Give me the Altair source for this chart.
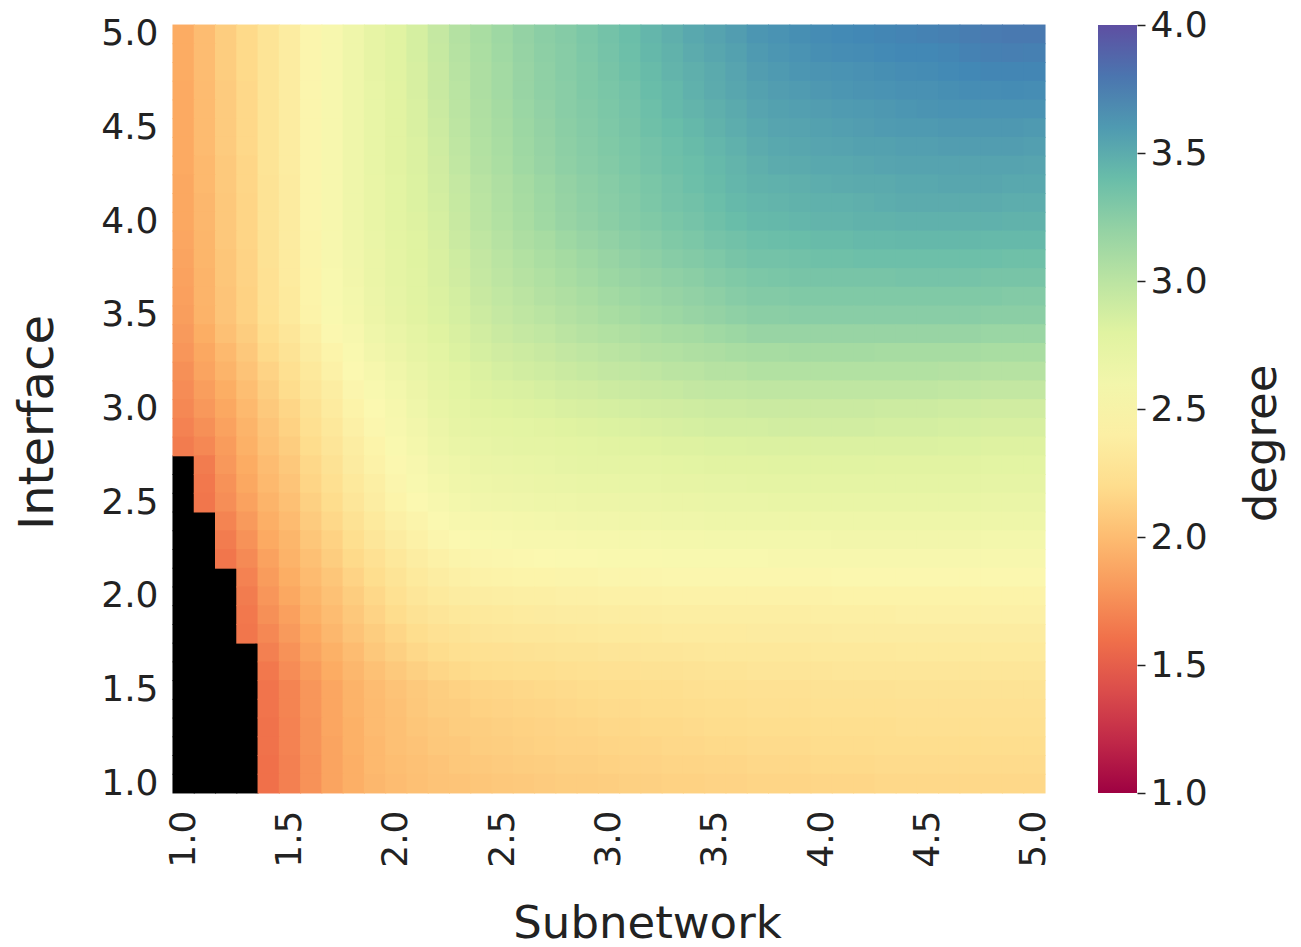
import altair as alt
import pandas as pd

# ---------------- data ----------------
subnetwork = ["1.0", "1.1", "1.2", "1.3", "1.4", "1.5", "1.6", "1.7", "1.8", "1.9",
              "2.0", "2.1", "2.2", "2.3", "2.4", "2.5", "2.6", "2.7", "2.8", "2.9",
              "3.0", "3.1", "3.2", "3.3", "3.4", "3.5", "3.6", "3.7", "3.8", "3.9",
              "4.0", "4.1", "4.2", "4.3", "4.4", "4.5", "4.6", "4.7", "4.8", "4.9",
              "5.0"]
interface = ["5.0", "4.9", "4.8", "4.7", "4.6", "4.5", "4.4", "4.3", "4.2", "4.1",
             "4.0", "3.9", "3.8", "3.7", "3.6", "3.5", "3.4", "3.3", "3.2", "3.1",
             "3.0", "2.9", "2.8", "2.7", "2.6", "2.5", "2.4", "2.3", "2.2", "2.1",
             "2.0", "1.9", "1.8", "1.7", "1.6", "1.5", "1.4", "1.3", "1.2", "1.1",
             "1.0"]
x_tick_labels = ["1.0", "1.5", "2.0", "2.5", "3.0", "3.5", "4.0", "4.5", "5.0"]
y_tick_labels = ["5.0", "4.5", "4.0", "3.5", "3.0", "2.5", "2.0", "1.5", "1.0"]
colorbar_ticks = [1.0, 1.5, 2.0, 2.5, 3.0, 3.5, 4.0]

# one row per Interface value (top row = 5.0), one entry per Subnetwork value; None = no value (black)
degree = [
    [1.90, 2.00, 2.10, 2.18, 2.28, 2.37, 2.47, 2.55, 2.63, 2.72,  2.79, 2.86, 2.95, 3.04, 3.10, 3.15, 3.20, 3.24, 3.27, 3.31,  3.35, 3.39, 3.44, 3.48, 3.52, 3.55, 3.58, 3.62, 3.64, 3.66,  3.68, 3.69, 3.70, 3.71, 3.72, 3.73, 3.74, 3.76, 3.77, 3.78,  3.78],
    [1.90, 2.00, 2.10, 2.18, 2.28, 2.37, 2.47, 2.55, 2.63, 2.72,  2.79, 2.86, 2.94, 3.03, 3.09, 3.14, 3.19, 3.23, 3.26, 3.30,  3.34, 3.38, 3.43, 3.46, 3.50, 3.53, 3.56, 3.60, 3.62, 3.64,  3.66, 3.67, 3.68, 3.69, 3.70, 3.70, 3.71, 3.73, 3.74, 3.75,  3.74],
    [1.90, 2.00, 2.10, 2.18, 2.28, 2.37, 2.47, 2.55, 2.63, 2.72,  2.79, 2.85, 2.93, 3.02, 3.08, 3.13, 3.18, 3.22, 3.26, 3.29,  3.33, 3.37, 3.41, 3.45, 3.48, 3.51, 3.54, 3.58, 3.60, 3.62,  3.63, 3.64, 3.65, 3.66, 3.67, 3.68, 3.69, 3.70, 3.71, 3.71,  3.71],
    [1.89, 1.99, 2.09, 2.17, 2.28, 2.37, 2.47, 2.55, 2.63, 2.71,  2.78, 2.85, 2.93, 3.01, 3.08, 3.13, 3.18, 3.22, 3.25, 3.29,  3.32, 3.35, 3.40, 3.43, 3.47, 3.50, 3.53, 3.56, 3.58, 3.59,  3.61, 3.62, 3.63, 3.64, 3.65, 3.65, 3.66, 3.67, 3.67, 3.68,  3.67],
    [1.89, 1.99, 2.09, 2.17, 2.28, 2.37, 2.47, 2.55, 2.63, 2.71,  2.78, 2.84, 2.92, 3.00, 3.07, 3.12, 3.17, 3.21, 3.25, 3.28,  3.31, 3.34, 3.38, 3.42, 3.45, 3.48, 3.51, 3.54, 3.56, 3.57,  3.58, 3.59, 3.60, 3.61, 3.62, 3.63, 3.64, 3.64, 3.64, 3.64,  3.64],
    [1.89, 1.99, 2.09, 2.17, 2.28, 2.37, 2.47, 2.55, 2.63, 2.71,  2.78, 2.84, 2.91, 2.99, 3.06, 3.11, 3.16, 3.20, 3.24, 3.27,  3.30, 3.33, 3.37, 3.40, 3.43, 3.46, 3.49, 3.52, 3.54, 3.55,  3.56, 3.57, 3.58, 3.59, 3.60, 3.60, 3.61, 3.61, 3.61, 3.61,  3.60],
    [1.89, 1.99, 2.09, 2.17, 2.28, 2.37, 2.47, 2.55, 2.63, 2.71,  2.78, 2.83, 2.90, 2.98, 3.05, 3.10, 3.15, 3.19, 3.23, 3.26,  3.29, 3.32, 3.35, 3.38, 3.41, 3.44, 3.47, 3.50, 3.52, 3.53,  3.54, 3.55, 3.56, 3.56, 3.57, 3.57, 3.58, 3.58, 3.58, 3.58,  3.57],
    [1.89, 1.98, 2.08, 2.16, 2.28, 2.37, 2.47, 2.55, 2.63, 2.71,  2.78, 2.83, 2.89, 2.97, 3.04, 3.09, 3.14, 3.18, 3.22, 3.25,  3.28, 3.31, 3.34, 3.37, 3.39, 3.42, 3.45, 3.48, 3.50, 3.51,  3.52, 3.52, 3.53, 3.54, 3.55, 3.55, 3.55, 3.55, 3.55, 3.55,  3.54],
    [1.88, 1.98, 2.08, 2.16, 2.27, 2.36, 2.47, 2.55, 2.63, 2.70,  2.77, 2.82, 2.88, 2.95, 3.02, 3.07, 3.12, 3.16, 3.20, 3.23,  3.26, 3.29, 3.32, 3.35, 3.38, 3.41, 3.44, 3.46, 3.47, 3.48,  3.49, 3.50, 3.51, 3.51, 3.52, 3.52, 3.53, 3.53, 3.53, 3.52,  3.52],
    [1.88, 1.97, 2.07, 2.15, 2.27, 2.36, 2.47, 2.55, 2.63, 2.70,  2.77, 2.82, 2.87, 2.94, 3.01, 3.06, 3.11, 3.15, 3.19, 3.22,  3.25, 3.28, 3.31, 3.34, 3.36, 3.39, 3.42, 3.44, 3.45, 3.46,  3.47, 3.47, 3.48, 3.49, 3.50, 3.50, 3.50, 3.50, 3.50, 3.49,  3.49],
    [1.88, 1.97, 2.07, 2.15, 2.27, 2.36, 2.47, 2.55, 2.63, 2.70,  2.77, 2.81, 2.86, 2.93, 3.00, 3.05, 3.10, 3.14, 3.18, 3.21,  3.24, 3.27, 3.29, 3.32, 3.34, 3.37, 3.40, 3.42, 3.43, 3.44,  3.45, 3.45, 3.46, 3.46, 3.47, 3.47, 3.47, 3.47, 3.47, 3.46,  3.46],
    [1.87, 1.96, 2.07, 2.15, 2.26, 2.36, 2.46, 2.54, 2.62, 2.69,  2.76, 2.80, 2.85, 2.92, 2.98, 3.03, 3.08, 3.11, 3.15, 3.18,  3.21, 3.24, 3.26, 3.29, 3.31, 3.34, 3.36, 3.38, 3.39, 3.40,  3.41, 3.41, 3.42, 3.42, 3.43, 3.43, 3.43, 3.43, 3.42, 3.42,  3.42],
    [1.86, 1.96, 2.06, 2.14, 2.26, 2.35, 2.46, 2.54, 2.61, 2.68,  2.75, 2.80, 2.84, 2.90, 2.96, 3.01, 3.05, 3.09, 3.12, 3.15,  3.18, 3.21, 3.23, 3.26, 3.28, 3.30, 3.33, 3.35, 3.35, 3.36,  3.37, 3.37, 3.38, 3.38, 3.38, 3.38, 3.38, 3.38, 3.38, 3.37,  3.37],
    [1.85, 1.95, 2.06, 2.14, 2.25, 2.35, 2.45, 2.53, 2.60, 2.68,  2.74, 2.79, 2.84, 2.89, 2.95, 2.99, 3.03, 3.06, 3.10, 3.13,  3.16, 3.18, 3.20, 3.22, 3.24, 3.27, 3.29, 3.31, 3.32, 3.33,  3.33, 3.33, 3.33, 3.33, 3.34, 3.34, 3.34, 3.34, 3.33, 3.33,  3.33],
    [1.84, 1.95, 2.05, 2.13, 2.25, 2.34, 2.45, 2.53, 2.59, 2.67,  2.73, 2.79, 2.83, 2.87, 2.93, 2.97, 3.00, 3.04, 3.07, 3.10,  3.13, 3.15, 3.17, 3.19, 3.21, 3.23, 3.26, 3.28, 3.28, 3.29,  3.29, 3.29, 3.29, 3.29, 3.29, 3.29, 3.29, 3.29, 3.29, 3.28,  3.28],
    [1.83, 1.94, 2.05, 2.13, 2.24, 2.34, 2.44, 2.52, 2.58, 2.66,  2.72, 2.78, 2.82, 2.86, 2.91, 2.95, 2.98, 3.01, 3.04, 3.07,  3.10, 3.12, 3.14, 3.16, 3.18, 3.20, 3.22, 3.24, 3.24, 3.25,  3.25, 3.25, 3.25, 3.25, 3.25, 3.25, 3.25, 3.25, 3.24, 3.24,  3.24],
    [1.81, 1.91, 2.02, 2.10, 2.21, 2.30, 2.40, 2.49, 2.55, 2.63,  2.69, 2.75, 2.80, 2.84, 2.88, 2.92, 2.95, 2.97, 3.00, 3.03,  3.05, 3.07, 3.09, 3.11, 3.12, 3.14, 3.16, 3.18, 3.18, 3.18,  3.18, 3.18, 3.18, 3.18, 3.18, 3.18, 3.18, 3.18, 3.17, 3.17,  3.17],
    [1.79, 1.88, 1.98, 2.07, 2.18, 2.27, 2.37, 2.45, 2.52, 2.60,  2.66, 2.72, 2.77, 2.82, 2.86, 2.89, 2.91, 2.93, 2.96, 2.98,  3.00, 3.02, 3.04, 3.05, 3.07, 3.08, 3.10, 3.11, 3.11, 3.12,  3.12, 3.12, 3.12, 3.11, 3.11, 3.11, 3.11, 3.11, 3.10, 3.10,  3.10],
    [1.76, 1.86, 1.95, 2.04, 2.14, 2.23, 2.33, 2.42, 2.50, 2.56,  2.62, 2.69, 2.75, 2.79, 2.83, 2.86, 2.88, 2.90, 2.92, 2.94,  2.96, 2.97, 2.98, 3.00, 3.01, 3.03, 3.03, 3.05, 3.05, 3.05,  3.05, 3.05, 3.05, 3.05, 3.05, 3.05, 3.04, 3.04, 3.03, 3.03,  3.03],
    [1.74, 1.83, 1.91, 2.01, 2.11, 2.20, 2.30, 2.38, 2.47, 2.53,  2.59, 2.66, 2.72, 2.77, 2.81, 2.83, 2.84, 2.86, 2.88, 2.89,  2.91, 2.92, 2.93, 2.94, 2.96, 2.97, 2.97, 2.98, 2.98, 2.98,  2.98, 2.98, 2.98, 2.98, 2.98, 2.98, 2.97, 2.97, 2.96, 2.96,  2.96],
    [1.72, 1.80, 1.88, 1.98, 2.08, 2.16, 2.26, 2.35, 2.44, 2.50,  2.56, 2.63, 2.70, 2.75, 2.78, 2.80, 2.81, 2.82, 2.84, 2.85,  2.86, 2.87, 2.88, 2.89, 2.90, 2.91, 2.91, 2.92, 2.92, 2.92,  2.92, 2.92, 2.92, 2.91, 2.91, 2.91, 2.90, 2.90, 2.89, 2.89,  2.89],
    [1.69, 1.76, 1.85, 1.95, 2.05, 2.13, 2.23, 2.32, 2.41, 2.48,  2.54, 2.60, 2.67, 2.72, 2.75, 2.76, 2.77, 2.78, 2.80, 2.81,  2.82, 2.83, 2.84, 2.85, 2.86, 2.87, 2.87, 2.87, 2.88, 2.88,  2.88, 2.88, 2.88, 2.87, 2.87, 2.87, 2.86, 2.86, 2.85, 2.85,  2.85],
    [1.66, 1.72, 1.82, 1.93, 2.03, 2.10, 2.20, 2.29, 2.38, 2.45,  2.52, 2.58, 2.64, 2.69, 2.71, 2.73, 2.74, 2.75, 2.76, 2.77,  2.78, 2.79, 2.80, 2.81, 2.81, 2.82, 2.82, 2.83, 2.83, 2.83,  2.83, 2.83, 2.83, 2.83, 2.83, 2.83, 2.82, 2.82, 2.81, 2.81,  2.81],
    [None, 1.66, 1.80, 1.90, 2.00, 2.07, 2.17, 2.26, 2.36, 2.43,  2.49, 2.55, 2.61, 2.65, 2.68, 2.69, 2.70, 2.71, 2.73, 2.74,  2.74, 2.75, 2.75, 2.76, 2.77, 2.78, 2.78, 2.78, 2.79, 2.79,  2.79, 2.79, 2.79, 2.78, 2.78, 2.78, 2.78, 2.78, 2.77, 2.77,  2.77],
    [None, 1.64, 1.77, 1.88, 1.98, 2.05, 2.15, 2.23, 2.33, 2.40,  2.47, 2.53, 2.58, 2.62, 2.64, 2.66, 2.67, 2.68, 2.69, 2.70,  2.70, 2.71, 2.71, 2.72, 2.72, 2.73, 2.73, 2.74, 2.74, 2.74,  2.74, 2.74, 2.74, 2.74, 2.74, 2.74, 2.74, 2.74, 2.73, 2.73,  2.73],
    [None, 1.63, 1.75, 1.85, 1.95, 2.02, 2.12, 2.20, 2.30, 2.38,  2.45, 2.50, 2.55, 2.59, 2.61, 2.62, 2.63, 2.64, 2.65, 2.66,  2.66, 2.67, 2.67, 2.68, 2.68, 2.69, 2.69, 2.69, 2.70, 2.70,  2.70, 2.70, 2.70, 2.70, 2.70, 2.70, 2.70, 2.70, 2.69, 2.69,  2.69],
    [None, None, 1.70, 1.81, 1.92, 1.99, 2.09, 2.17, 2.26, 2.34,  2.41, 2.46, 2.51, 2.55, 2.56, 2.57, 2.58, 2.59, 2.60, 2.61,  2.61, 2.62, 2.62, 2.63, 2.63, 2.64, 2.64, 2.64, 2.65, 2.65,  2.65, 2.65, 2.65, 2.65, 2.65, 2.65, 2.65, 2.65, 2.64, 2.64,  2.64],
    [None, None, 1.66, 1.77, 1.89, 1.96, 2.06, 2.13, 2.22, 2.30,  2.37, 2.42, 2.47, 2.50, 2.52, 2.53, 2.54, 2.54, 2.55, 2.56,  2.56, 2.57, 2.57, 2.58, 2.58, 2.59, 2.59, 2.59, 2.59, 2.59,  2.59, 2.60, 2.60, 2.60, 2.60, 2.60, 2.60, 2.60, 2.59, 2.59,  2.59],
    [None, None, 1.63, 1.73, 1.85, 1.94, 2.02, 2.10, 2.18, 2.25,  2.32, 2.38, 2.42, 2.46, 2.47, 2.48, 2.49, 2.50, 2.51, 2.51,  2.52, 2.52, 2.52, 2.53, 2.53, 2.53, 2.53, 2.53, 2.54, 2.54,  2.54, 2.54, 2.54, 2.54, 2.54, 2.54, 2.54, 2.54, 2.54, 2.54,  2.54],
    [None, None, None, 1.69, 1.82, 1.91, 1.99, 2.06, 2.14, 2.21,  2.28, 2.34, 2.38, 2.41, 2.43, 2.44, 2.45, 2.45, 2.46, 2.46,  2.47, 2.47, 2.47, 2.48, 2.48, 2.48, 2.48, 2.48, 2.48, 2.48,  2.48, 2.49, 2.49, 2.49, 2.49, 2.49, 2.49, 2.49, 2.49, 2.49,  2.49],
    [None, None, None, 1.66, 1.79, 1.88, 1.96, 2.03, 2.10, 2.17,  2.24, 2.30, 2.34, 2.37, 2.38, 2.39, 2.40, 2.40, 2.41, 2.41,  2.42, 2.42, 2.42, 2.43, 2.43, 2.43, 2.43, 2.43, 2.43, 2.43,  2.43, 2.44, 2.44, 2.44, 2.44, 2.44, 2.44, 2.44, 2.44, 2.44,  2.44],
    [None, None, None, 1.64, 1.76, 1.84, 1.93, 2.00, 2.07, 2.14,  2.20, 2.26, 2.29, 2.32, 2.33, 2.34, 2.35, 2.36, 2.37, 2.37,  2.38, 2.38, 2.38, 2.39, 2.39, 2.39, 2.39, 2.39, 2.39, 2.39,  2.40, 2.40, 2.40, 2.40, 2.41, 2.41, 2.41, 2.41, 2.41, 2.41,  2.41],
    [None, None, None, 1.63, 1.72, 1.81, 1.89, 1.97, 2.04, 2.10,  2.16, 2.21, 2.25, 2.27, 2.29, 2.30, 2.31, 2.31, 2.32, 2.33,  2.34, 2.34, 2.34, 2.35, 2.35, 2.35, 2.35, 2.36, 2.36, 2.36,  2.36, 2.37, 2.37, 2.37, 2.37, 2.37, 2.37, 2.37, 2.37, 2.37,  2.37],
    [None, None, None, None, 1.68, 1.77, 1.86, 1.93, 2.00, 2.07,  2.12, 2.17, 2.20, 2.23, 2.24, 2.25, 2.26, 2.27, 2.28, 2.28,  2.29, 2.29, 2.30, 2.30, 2.31, 2.32, 2.32, 2.32, 2.32, 2.32,  2.33, 2.33, 2.33, 2.33, 2.34, 2.34, 2.34, 2.34, 2.34, 2.34,  2.34],
    [None, None, None, None, 1.64, 1.74, 1.82, 1.90, 1.97, 2.03,  2.08, 2.12, 2.16, 2.18, 2.20, 2.21, 2.22, 2.22, 2.23, 2.24,  2.25, 2.25, 2.26, 2.26, 2.27, 2.28, 2.28, 2.29, 2.29, 2.29,  2.29, 2.30, 2.30, 2.30, 2.30, 2.30, 2.30, 2.30, 2.30, 2.30,  2.30],
    [None, None, None, None, 1.62, 1.70, 1.79, 1.87, 1.94, 2.00,  2.04, 2.08, 2.11, 2.13, 2.15, 2.16, 2.17, 2.18, 2.19, 2.20,  2.21, 2.21, 2.22, 2.22, 2.23, 2.24, 2.24, 2.25, 2.25, 2.25,  2.26, 2.26, 2.26, 2.26, 2.27, 2.27, 2.27, 2.27, 2.27, 2.27,  2.27],
    [None, None, None, None, 1.62, 1.70, 1.79, 1.87, 1.94, 1.99,  2.03, 2.07, 2.10, 2.11, 2.13, 2.14, 2.15, 2.16, 2.17, 2.18,  2.19, 2.19, 2.20, 2.20, 2.21, 2.22, 2.22, 2.23, 2.23, 2.23,  2.24, 2.24, 2.24, 2.24, 2.25, 2.25, 2.25, 2.25, 2.25, 2.25,  2.25],
    [None, None, None, None, 1.61, 1.69, 1.78, 1.87, 1.93, 1.99,  2.02, 2.06, 2.08, 2.10, 2.11, 2.12, 2.13, 2.14, 2.15, 2.16,  2.17, 2.17, 2.18, 2.18, 2.19, 2.20, 2.20, 2.21, 2.21, 2.21,  2.22, 2.22, 2.22, 2.22, 2.23, 2.23, 2.23, 2.23, 2.23, 2.23,  2.23],
    [None, None, None, None, 1.61, 1.69, 1.78, 1.86, 1.93, 1.98,  2.02, 2.04, 2.07, 2.08, 2.10, 2.11, 2.12, 2.13, 2.14, 2.14,  2.15, 2.16, 2.16, 2.17, 2.17, 2.18, 2.18, 2.19, 2.19, 2.19,  2.20, 2.20, 2.20, 2.21, 2.21, 2.21, 2.21, 2.21, 2.21, 2.21,  2.21],
    [None, None, None, None, 1.60, 1.68, 1.77, 1.86, 1.92, 1.98,  2.01, 2.03, 2.05, 2.07, 2.08, 2.09, 2.10, 2.11, 2.12, 2.12,  2.13, 2.14, 2.14, 2.15, 2.15, 2.16, 2.16, 2.17, 2.17, 2.17,  2.18, 2.18, 2.18, 2.19, 2.19, 2.19, 2.19, 2.19, 2.19, 2.19,  2.19],
    [None, None, None, None, 1.60, 1.68, 1.77, 1.86, 1.92, 1.97,  2.00, 2.02, 2.04, 2.05, 2.06, 2.07, 2.08, 2.09, 2.10, 2.10,  2.11, 2.12, 2.12, 2.13, 2.13, 2.14, 2.14, 2.15, 2.15, 2.15,  2.16, 2.16, 2.16, 2.17, 2.17, 2.17, 2.17, 2.17, 2.17, 2.17,  2.17],
]

for i, row in enumerate(degree):
    assert len(row) == len(subnetwork), (interface[i], len(row))
assert len(degree) == len(interface)

records = []
for yi, y in enumerate(interface):
    for xi, x in enumerate(subnetwork):
        records.append({"Subnetwork": x, "Interface": y, "degree": degree[yi][xi]})
df = pd.DataFrame(records)
ticks_df = pd.DataFrame({"tick": colorbar_ticks})

# ---------------- styling ----------------
FONT = "DejaVu Sans"
TXT = "#222222"
PLOT_W, PLOT_H = 872, 768
CELL = alt.RelativeBandSize(band=1.05)   # slight overlap hides anti-aliasing seams

x_enc = alt.X(
    "Subnetwork:O",
    scale=alt.Scale(domain=subnetwork, paddingInner=0, paddingOuter=0),
    axis=alt.Axis(
        values=x_tick_labels, labelAngle=270, labelFont=FONT, labelFontSize=36,
        labelColor=TXT, labelPadding=17, labelOverlap=False, ticks=False, tickSize=0,
        domain=False, grid=False,
        title="Subnetwork", titleFont=FONT, titleFontSize=45, titleFontWeight="normal",
        titleColor=TXT, titleX=474, titleY=144, titleAlign="center",
        titleBaseline="alphabetic",
    ),
)

y_heat = alt.Y(
    "Interface:O",
    scale=alt.Scale(domain=interface, paddingInner=0, paddingOuter=0),
    axis=alt.Axis(
        values=y_tick_labels, labelFont=FONT, labelFontSize=36, labelColor=TXT,
        labelPadding=15, labelOverlap=False, ticks=False, tickSize=0, domain=False,
        grid=False,
        title="Interface", titleFont=FONT, titleFontSize=48, titleFontWeight="normal",
        titleColor=TXT, titleAngle=270, titleX=-121, titleY=397, titleAlign="center",
        titleBaseline="alphabetic",
    ),
)

y_black = alt.Y(
    "Interface:O",
    scale=alt.Scale(domain=interface, paddingInner=0, paddingOuter=0),
    axis=None,
)

color_scale = alt.Scale(scheme="spectral", domain=[1, 4], nice=False)

black = alt.Chart(df).transform_filter("!isValid(datum.degree)").mark_rect(
    fill="black", width=CELL, height=CELL
).encode(x=x_enc, y=y_black)

heat = alt.Chart(df).transform_filter("isValid(datum.degree)").mark_rect(
    width=CELL, height=CELL
).encode(
    x=x_enc,
    y=y_heat,
    color=alt.Color(
        "degree:Q", scale=color_scale, title=None,
        legend=alt.Legend(
            type="gradient", orient="none", legendX=925, legendY=0,
            direction="vertical", gradientLength=PLOT_H, gradientThickness=39,
            gradientStrokeWidth=0, labelOpacity=0, labelFontSize=1, padding=0,
        ),
    ),
)

cbar_axis = alt.Chart(ticks_df).mark_point(opacity=0).encode(
    y=alt.Y(
        "tick:Q",
        scale=alt.Scale(domain=[1, 4], nice=False, zero=False),
        axis=alt.Axis(
            orient="right", offset=92, values=colorbar_ticks, format=".1f",
            grid=False, domain=False, ticks=True, tickSize=8, tickWidth=1.5,
            tickColor=TXT, labelFont=FONT, labelFontSize=36, labelColor=TXT,
            labelPadding=5, labelOverlap=False, labelFlush=False,
            title="degree", titleFont=FONT, titleFontSize=45, titleFontWeight="normal",
            titleColor=TXT, titleAngle=270, titleX=138, titleY=418,
            titleAlign="center", titleBaseline="alphabetic",
        ),
    )
)

chart = (
    alt.layer(black, heat, cbar_axis)
    .resolve_scale(y="independent")
    .resolve_axis(y="independent")
    .properties(
        width=PLOT_W,
        height=PLOT_H,
        autosize=alt.AutoSizeParams(type="none"),
        padding={"left": 173, "top": 25, "right": 256, "bottom": 154},
        background="white",
    )
    .configure_view(strokeWidth=0)
)

chart.save("out.html", embed_options={"renderer": "svg", "actions": False})
